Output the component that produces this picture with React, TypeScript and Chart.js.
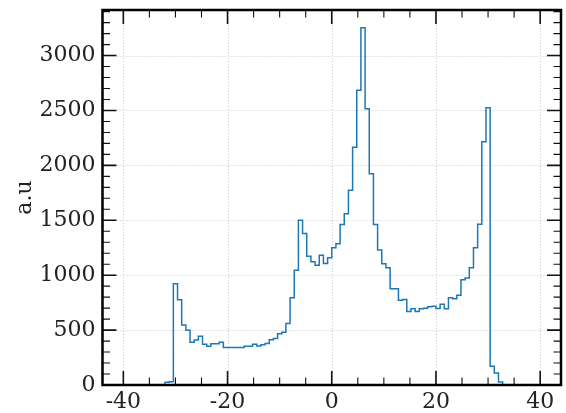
import React, { useEffect, useRef } from "react";
import { Chart, registerables } from "chart.js";

Chart.register(...registerables);

// Histogram: bins of width 0.8 starting at -32.8
const binStart = -32.8;
const binWidth = 0.8;
const counts = [
  0, 25, 30, 922, 776, 547, 499, 390, 410, 443,
  370, 352, 376, 376, 390, 341, 341, 341, 341, 341,
  353, 353, 372, 355, 366, 378, 412, 423, 466, 481,
  560, 794, 1046, 1501, 1380, 1173, 1122, 1091, 1182, 1107,
  1158, 1249, 1286, 1462, 1559, 1774, 2166, 2685, 3253, 2515,
  1923, 1462, 1230, 1104, 1067, 876, 876, 772, 779, 669,
  694, 669, 694, 700, 712, 718, 697, 736, 694, 794,
  786, 817, 958, 975, 1067, 1249, 1465, 2215, 2525, 170,
  110, 28,
];

const xTickValues = [-40, -20, 0, 20, 40];
const yTickValues = [0, 500, 1000, 1500, 2000, 2500, 3000];
const xMinorStep = 5;
const yMinorStep = 100;
const xLimits = [-44, 44];
const yLimits = [0, 3415];
const yAxisTitle = "a.u";

const FONT = { family: "'DejaVu Serif', serif", size: 22 };
const TEXT_COLOR = "#222";

const framePlugin = {
  id: "frame",
  beforeDatasetsDraw(chart: any) {
    const { ctx, chartArea: a, scales } = chart;
    const xs = scales.x;
    const ys = scales.y;
    ctx.save();
    ctx.strokeStyle = "#c8c8c8";
    ctx.lineWidth = 1;
    ctx.setLineDash([1, 2]);
    for (const v of xTickValues) {
      const px = Math.round(xs.getPixelForValue(v)) + 0.5;
      ctx.beginPath();
      ctx.moveTo(px, a.top);
      ctx.lineTo(px, a.bottom);
      ctx.stroke();
    }
    for (const v of yTickValues) {
      const py = Math.round(ys.getPixelForValue(v)) + 0.5;
      ctx.beginPath();
      ctx.moveTo(a.left, py);
      ctx.lineTo(a.right, py);
      ctx.stroke();
    }
    ctx.restore();
  },
  afterDatasetsDraw(chart: any) {
    const { ctx, chartArea: a, scales } = chart;
    const xs = scales.x;
    const ys = scales.y;
    ctx.save();
    ctx.strokeStyle = "#111";
    const majorLen = 14;
    const minorLen = 7.5;
    for (let v = Math.ceil(xLimits[0] / xMinorStep) * xMinorStep; v <= xLimits[1]; v += xMinorStep) {
      const major = xTickValues.includes(v);
      const len = major ? majorLen : minorLen;
      ctx.lineWidth = major ? 1.6 : 1.1;
      const px = xs.getPixelForValue(v);
      ctx.beginPath();
      ctx.moveTo(px, a.bottom);
      ctx.lineTo(px, a.bottom - len);
      ctx.moveTo(px, a.top);
      ctx.lineTo(px, a.top + len);
      ctx.stroke();
    }
    for (let v = yLimits[0]; v <= yLimits[1]; v += yMinorStep) {
      const major = yTickValues.includes(v);
      const len = major ? majorLen : minorLen;
      ctx.lineWidth = major ? 1.6 : 1.1;
      const py = ys.getPixelForValue(v);
      ctx.beginPath();
      ctx.moveTo(a.left, py);
      ctx.lineTo(a.left + len, py);
      ctx.moveTo(a.right, py);
      ctx.lineTo(a.right - len, py);
      ctx.stroke();
    }
    ctx.strokeStyle = "#000";
    ctx.lineWidth = 2.5;
    ctx.strokeRect(a.left, a.top, a.right - a.left, a.bottom - a.top);
    ctx.restore();
  },
};

export default function App() {
  const canvasRef = useRef<HTMLCanvasElement | null>(null);

  useEffect(() => {
    const canvas = canvasRef.current;
    if (!canvas) return;
    const points = counts.map((c, i) => ({
      x: Math.round((binStart + i * binWidth) * 10) / 10,
      y: c,
    }));
    points.push({ x: Math.round((binStart + counts.length * binWidth) * 10) / 10, y: 0 });

    const chart = new Chart(canvas, {
      type: "line",
      data: {
        datasets: [
          {
            data: points,
            stepped: true,
            borderColor: "#1f77b4",
            borderWidth: 1.5,
            pointRadius: 0,
            fill: false,
            tension: 0,
          },
        ],
      },
      options: {
        responsive: false,
        animation: false,
        events: [],
        layout: { padding: { top: 10, right: 5, left: 0, bottom: 0 } },
        plugins: { legend: { display: false }, tooltip: { enabled: false } },
        scales: {
          x: {
            type: "linear",
            min: xLimits[0],
            max: xLimits[1],
            grid: { display: false, drawTicks: false },
            border: { display: false },
            ticks: {
              font: FONT,
              color: TEXT_COLOR,
              padding: 4,
              maxRotation: 0,
              autoSkip: false,
              callback: (v: any) => String(v),
            },
            afterBuildTicks: (s: any) => {
              s.ticks = xTickValues.map((v) => ({ value: v }));
            },
            afterFit: (s: any) => {
              s.height = 28;
              s.paddingLeft = 0;
              s.paddingRight = 0;
            },
          },
          y: {
            type: "linear",
            min: yLimits[0],
            max: yLimits[1],
            grid: { display: false, drawTicks: false },
            border: { display: false },
            ticks: {
              font: FONT,
              color: TEXT_COLOR,
              padding: 7,
              autoSkip: false,
              callback: (v: any) => String(v),
            },
            afterBuildTicks: (s: any) => {
              s.ticks = yTickValues.map((v) => ({ value: v }));
            },
            afterFit: (s: any) => {
              s.width = 102.5;
              s.paddingTop = 0;
              s.paddingBottom = 0;
            },
            title: {
              display: true,
              text: yAxisTitle,
              font: FONT,
              color: TEXT_COLOR,
              padding: { top: 12, bottom: 0 },
            },
          },
        },
      },
      plugins: [framePlugin],
    });
    return () => chart.destroy();
  }, []);

  return (
    <div style={{ position: "absolute", left: 0, top: 0, width: 566, height: 413, background: "#fff" }}>
      <canvas ref={canvasRef} width={566} height={413} />
    </div>
  );
}
